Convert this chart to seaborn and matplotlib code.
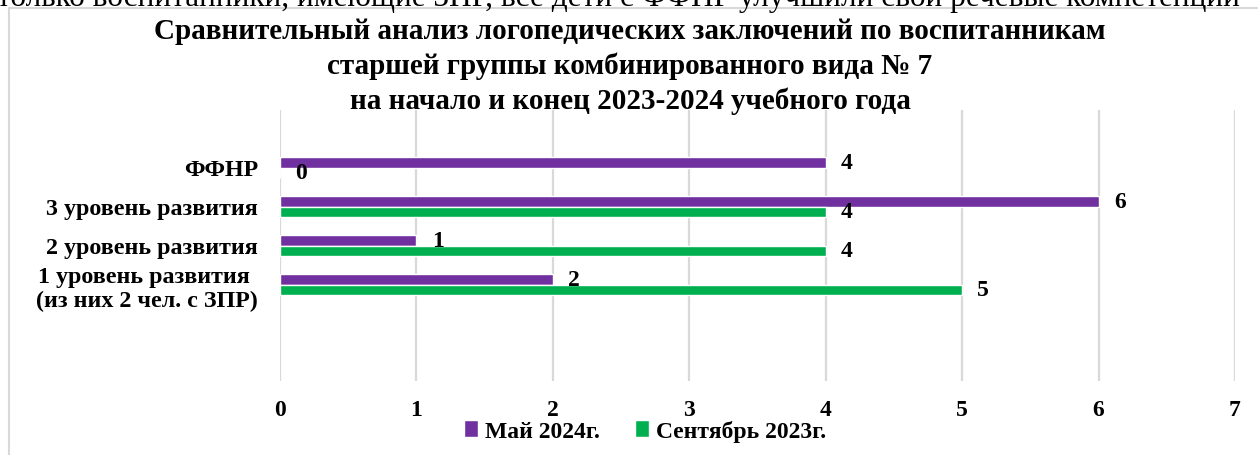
import pandas as pd
import matplotlib.pyplot as plt
import matplotlib.patches as mpatches
import seaborn as sns

# Данные диаграммы
categories = ['ФФНР', '3 уровень развития', '2 уровень развития',
              '1 уровень развития \n(из них 2 чел. с ЗПР)']
may_2024 = [4, 6, 1, 2]
sep_2023 = [0, 4, 4, 5]
series = ['Май 2024г.', 'Сентябрь 2023г.']
x_ticks = [0, 1, 2, 3, 4, 5, 6, 7]

title = ('Сравнительный анализ логопедических заключений по воспитанникам\n'
         'старшей группы комбинированного вида № 7\n'
         'на начало и конец 2023-2024 учебного года')
top_text = 'только воспитанники, имеющие ЗПР, все дети с ФФНР улучшили свои речевые компетенции'

df = pd.DataFrame({
    'Категория': categories * 2,
    'Значение': may_2024 + sep_2023,
    'Период': [series[0]] * len(categories) + [series[1]] * len(categories),
})

sns.set_theme(style='white')
plt.rcParams['font.family'] = ['Liberation Serif', 'DejaVu Serif']
plt.rcParams['text.color'] = 'black'
plt.rcParams['xtick.color'] = 'black'
plt.rcParams['ytick.color'] = 'black'

W, H = 1258, 456
fig = plt.figure(figsize=(W / 100, H / 100), dpi=100)
ax = fig.add_axes([280 / W, 1 - 382 / H, (1235 - 280) / W, (382 - 111) / H])

colors = {series[0]: '#7030A0', series[1]: '#00B050'}
sns.barplot(data=df, x='Значение', y='Категория', hue='Период', orient='h',
            order=categories, hue_order=series, palette=colors,
            width=0.54, ax=ax, legend=True, saturation=1)

for cont in ax.containers:
    ax.bar_label(cont, padding=11, fontsize=17, fontweight='bold', color='black')

ax.set_xlim(0, 7)
ax.set_ylim(3 + 96.5 / 39, -57.5 / 39)
ax.set_xticks(x_ticks)
ax.set_xticklabels([str(t) for t in x_ticks], fontsize=17, fontweight='bold')
ax.set_yticklabels(categories, fontsize=17.3, fontweight='bold', multialignment='center')
ax.tick_params(axis='x', length=0, pad=13, labelcolor='black')
ax.tick_params(axis='y', length=0, pad=16, labelcolor='black')
ax.set_xlabel('')
ax.set_ylabel('')
ax.grid(axis='x', color='#D9D9D9', linewidth=1.6)
ax.set_axisbelow(True)
for s in ax.spines.values():
    s.set_visible(False)

handles, labels = ax.get_legend_handles_labels()
ax.get_legend().remove()
fig.legend(handles, labels, loc='center', bbox_to_anchor=(645 / W, 1 - 432 / H),
           ncol=2, frameon=False, handlelength=0.6, handleheight=0.7,
           handletextpad=0.3, columnspacing=1.5, labelcolor='black',
           prop={'size': 17, 'weight': 'bold'})

fig.text(630 / W, 1 - 18 / H, title, ha='center', va='top', fontsize=21,
         fontweight='bold', linespacing=1.35, color='black')
fig.text(-0.002, 1 - 6 / H, top_text, ha='left', va='baseline', fontsize=22.5,
         color='black')

fig.patches.append(mpatches.Rectangle((9 / W, -0.1), 1.2, 1 - 9 / H + 0.1,
                                      transform=fig.transFigure, fill=False,
                                      edgecolor='#D9D9D9', linewidth=1.5))

fig.savefig('out.png', dpi=100)
